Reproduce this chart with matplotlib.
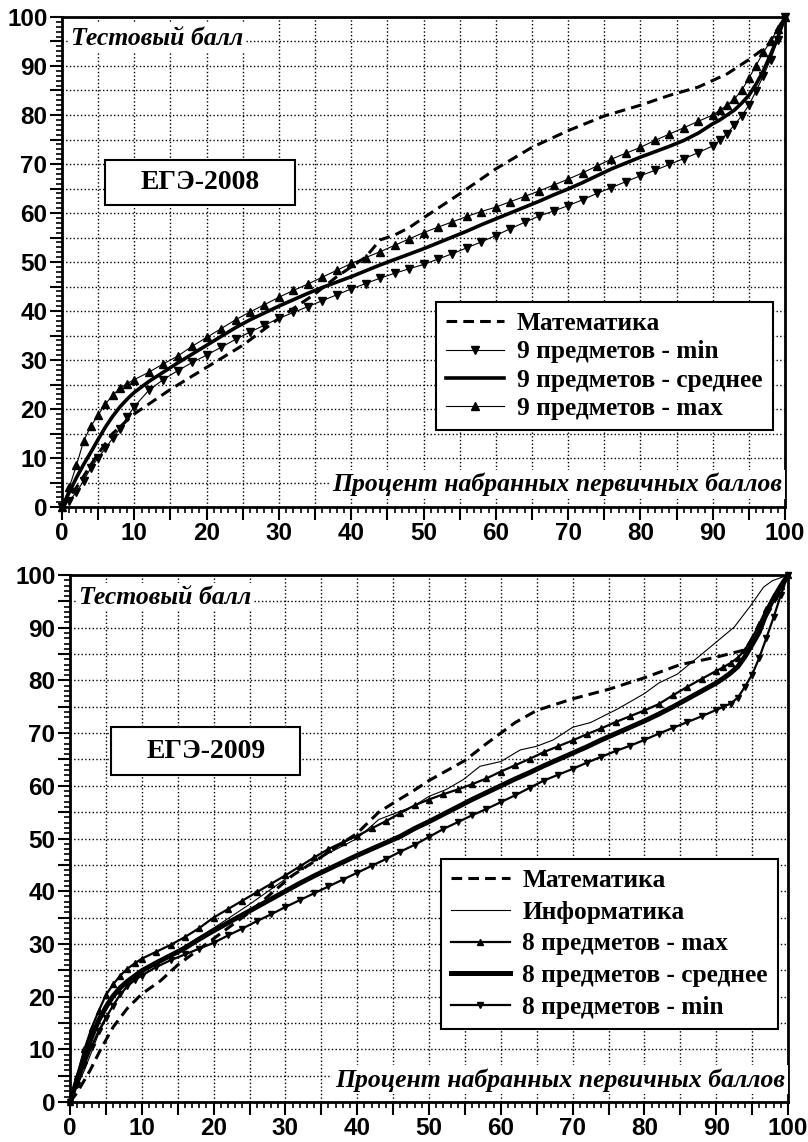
import matplotlib
matplotlib.use('Agg')
import matplotlib.pyplot as plt
from matplotlib.ticker import MultipleLocator, FuncFormatter
from matplotlib.patches import Rectangle

plt.rcParams['font.family'] = ['Liberation Sans', 'DejaVu Sans']
plt.rcParams['font.weight'] = 'bold'
SERIF = ['Liberation Serif', 'DejaVu Serif']

# ---------------- data: ЕГЭ-2008 ----------------
top_x = [0, 1, 2, 3, 4, 5, 6, 7, 8, 9, 10,
         12, 14, 16, 18, 20, 22, 24, 26, 28, 30,
         32, 34, 36, 38, 40, 42, 44, 46, 48, 50,
         52, 54, 56, 58, 60, 62, 64, 66, 68, 70,
         72, 74, 76, 78, 80, 82, 84, 86, 88, 90,
         91, 92, 93, 94, 95, 96, 97, 98, 99, 100]
top_max = [0, 4, 8.5, 13.5, 16.5, 18.8, 21, 22.8, 24.2, 25.2, 26,
           27.5, 29.2, 30.8, 32.8, 34.6, 36.4, 38.2, 39.8, 41.3, 42.8,
           44.2, 45.5, 46.9, 48.3, 49.7, 50.9, 52.1, 53.4, 54.7, 56,
           57.1, 58.2, 59.3, 60.3, 61.2, 62.3, 63.4, 64.5, 65.7, 66.9,
           68.2, 69.6, 71, 72.2, 73.4, 74.8, 76.1, 77.4, 78.7, 80,
           81, 82, 83.3, 85, 87.5, 90.1, 92.8, 95, 97.6, 100]
top_mean = [0, 3, 6, 8.7, 11.2, 13.8, 16.3, 18.5, 20.4, 22, 23.4,
            25.6, 27.5, 29.4, 31.2, 33, 34.8, 36.6, 38.2, 39.6, 41,
            42.3, 43.6, 44.8, 45.9, 47, 48.2, 49.4, 50.5, 51.6, 52.7,
            53.9, 55.1, 56.3, 57.6, 58.8, 60, 61.2, 62.4, 63.7, 64.9,
            66.2, 67.6, 69, 70.2, 71.4, 72.5, 73.6, 74.8, 76.3, 78.2,
            79, 80, 81, 82.4, 84, 86.3, 89, 92.3, 95.8, 100]
top_min = [0, 1.3, 3, 5.4, 8, 10, 12, 14, 16, 18.3, 20.5,
           23.8, 26, 27.8, 29.5, 31, 32.6, 34.2, 35.7, 37.1, 38.5,
           39.7, 40.9, 42.1, 43.3, 44.5, 45.6, 46.7, 47.7, 48.6, 49.5,
           50.6, 51.7, 52.9, 54.1, 55.4, 56.8, 58.1, 59.4, 60.4, 61.5,
           62.7, 64, 65.2, 66.4, 67.6, 68.7, 69.9, 71.1, 72.3, 73.7,
           74.8, 76.2, 78, 79.8, 82, 84.9, 88, 91.3, 95.3, 100]
top_math_x = [0, 2, 4.6, 7, 10, 13, 15, 20, 25, 30, 35, 38, 40, 42, 44, 46, 48, 50,
              55, 60, 65, 70, 75, 80, 84, 88, 92, 95, 97.5, 100]
top_math_y = [0, 4, 10, 15, 19, 22, 24, 28.5, 33, 38.5, 43.5, 47, 49, 51, 54.5, 55.5, 57, 59,
              63.9, 69, 73.4, 76.8, 79.8, 82, 84, 85.7, 88.4, 91.3, 94, 100]

# ---------------- data: ЕГЭ-2009 ----------------
bot_x = list(top_x)
bot_max = [0, 5, 10, 14, 17.3, 20.3, 22.3, 24, 25.3, 26.3, 27.2,
           28.5, 29.8, 31.3, 33, 35, 36.6, 38.2, 39.8, 41.4, 43,
           44.7, 46.4, 48, 49.3, 50.5, 51.9, 53.3, 54.8, 56.3, 57.4,
           58.4, 59.3, 60.3, 61.4, 62.7, 63.9, 65.1, 66.4, 67.5, 68.6,
           69.8, 70.9, 72.1, 73.2, 74.3, 75.5, 77.2, 78.8, 80.3, 81.8,
           82.5, 83.3, 84.3, 85.8, 88, 90.7, 93.6, 96, 97.9, 100]
bot_mean = [0, 4.3, 8.6, 12.3, 15.5, 18, 20.1, 21.7, 22.9, 23.9, 24.9,
            26.4, 27.8, 29.2, 30.9, 32.5, 34, 35.5, 37, 38.5, 40,
            41.5, 42.9, 44.2, 45.5, 46.8, 48, 49.2, 50.4, 51.9, 53.2,
            54.6, 56, 57.4, 58.7, 60, 61.3, 62.5, 63.8, 65, 66.2,
            67.4, 68.7, 69.9, 71.1, 72.3, 73.6, 75, 76.5, 78, 79.5,
            80.4, 81.4, 82.6, 84.5, 86.8, 89.2, 92.8, 95.6, 97.9, 100]
bot_min = [0, 3.3, 7, 10.5, 13.5, 16, 18.3, 20.4, 22, 23.1, 24,
           25.6, 26.9, 28, 29.1, 30.2, 31.6, 32.9, 34.3, 35.6, 37,
           38.3, 39.6, 40.9, 42.2, 43.5, 44.8, 46.1, 47.5, 48.8, 50.3,
           51.8, 53.1, 54.4, 55.6, 56.9, 58.2, 59.6, 61, 62.1, 63.2,
           64.4, 65.5, 66.6, 67.6, 68.7, 69.9, 71, 72.1, 73.2, 74.4,
           75, 75.6, 76.7, 78.8, 81.1, 84.3, 88.1, 92, 96.2, 100]
bot_info_x = [0, 2, 4, 6, 8, 10, 12, 15, 20, 25, 30, 35, 40, 43, 47.8, 50, 52.4, 54.8,
              57.1, 60, 62.7, 65, 67.3, 70, 72.5, 76.3, 80, 82, 84.6, 88.8, 92.5, 94.8,
              96.6, 97.8, 100]
bot_info_y = [0, 6, 13, 18.5, 22, 24.5, 26.3, 28.8, 33, 37.5, 42.3, 46.5, 50, 53.6, 56.1, 58,
              59.3, 61.2, 63.7, 64.6, 66.8, 67.5, 68.7, 71.1, 72, 74.6, 77.5, 79.5, 81.2, 85.9,
              90.1, 94.2, 97.7, 98.9, 100]
bot_math_x = [0, 1, 2.8, 4.2, 6, 8, 10, 12.6, 15, 18, 20, 25, 28.4, 31, 35, 40, 43, 45, 48,
              50, 55, 58, 62, 65, 70, 75, 80, 85, 90, 94, 96.6, 98.5, 100]
bot_math_y = [0, 1.8, 6, 9.8, 14.2, 17.8, 20.5, 23, 26, 29, 31, 36, 40, 43, 46.5, 51, 55, 56.7,
              59.2, 61, 64.8, 68, 72, 74.3, 76.5, 78.3, 80.5, 83, 84.4, 85.8, 91.3, 95.8, 100]

fig = plt.figure(figsize=(8.08, 11.42), dpi=100)
ax1 = fig.add_axes([62 / 808, 1 - 507 / 1142, 723 / 808, 490 / 1142])
ax2 = fig.add_axes([70 / 808, 1 - 1102 / 1142, 718 / 808, 527 / 1142])


def style_axes(ax):
    ax.set_xlim(0, 100)
    ax.set_ylim(0, 100)
    for s in ax.spines.values():
        s.set_linewidth(2)
        s.set_color('black')
    fmt = FuncFormatter(lambda v, p: '%d' % round(v) if round(v) % 10 == 0 else '')
    for axis in (ax.xaxis, ax.yaxis):
        axis.set_major_locator(MultipleLocator(5))
        axis.set_minor_locator(MultipleLocator(1))
        axis.set_major_formatter(fmt)
    ax.tick_params(which='major', direction='out', length=9, width=1.5, pad=1.5,
                   labelsize=17.5, top=False, right=False)
    ax.tick_params(which='minor', direction='out', length=4.5, width=1.2,
                   top=False, right=False)
    ax.grid(which='major', linestyle=':', color='black', linewidth=1)
    ax.set_axisbelow(True)


def labels(ax, tx, ty, bx, by):
    ax.text(tx, ty, 'Тестовый балл', family=SERIF, style='italic', weight='bold',
            size=18.5, ha='left', va='center', zorder=5,
            bbox=dict(facecolor='white', edgecolor='none', pad=2))
    ax.text(bx, by, 'Процент набранных первичных баллов', family=SERIF, style='italic',
            weight='bold', size=18.5, ha='right', va='center', zorder=5,
            bbox=dict(facecolor='white', edgecolor='none', pad=2))


def year_box(ax, x0, y0, w, h, txt):
    ax.add_patch(Rectangle((x0, y0), w, h, facecolor='white', edgecolor='black',
                           linewidth=1.5, zorder=4))
    ax.text(x0 + w / 2, y0 + h / 2, txt, family=SERIF, weight='bold', size=20,
            ha='center', va='center', zorder=5)


def make_legend(ax, anchor, spacing):
    leg = ax.legend(loc='upper right', bbox_to_anchor=anchor, borderaxespad=0,
                    numpoints=1, frameon=True, fancybox=False, framealpha=1,
                    edgecolor='black', borderpad=0.4, labelspacing=spacing,
                    handlelength=2.3, handletextpad=0.5,
                    prop=dict(family=SERIF, weight='bold', size=18.3))
    leg.get_frame().set_linewidth(1.5)
    leg.set_zorder(6)
    return leg


# ---------- top chart ----------
style_axes(ax1)
ax1.plot(top_math_x, top_math_y, color='black', lw=2.2, dashes=(3.5, 2),
         label='Математика', clip_on=False, zorder=3)
ax1.plot(top_x, top_min, color='black', lw=0.8, marker='v', ms=5.5,
         label='9 предметов - min', clip_on=False, zorder=3)
ax1.plot(top_x, top_mean, color='black', lw=2.6,
         label='9 предметов - среднее', clip_on=False, zorder=3)
ax1.plot(top_x, top_max, color='black', lw=0.8, marker='^', ms=5.5,
         label='9 предметов - max', clip_on=False, zorder=3)
labels(ax1, 1.3, 95.6, 99.6, 4.6)
year_box(ax1, 5.95, 61.6, 26.25, 9.2, 'ЕГЭ-2008')
make_legend(ax1, (0.983, 0.418), 0.2)

# ---------- bottom chart ----------
style_axes(ax2)
ax2.plot(bot_math_x, bot_math_y, color='black', lw=2.2, dashes=(3.5, 2),
         label='Математика', clip_on=False, zorder=3)
ax2.plot(bot_info_x, bot_info_y, color='black', lw=0.8,
         label='Информатика', clip_on=False, zorder=3)
ax2.plot(bot_x, bot_max, color='black', lw=1.6, marker='^', ms=5,
         label='8 предметов - max', clip_on=False, zorder=3)
ax2.plot(bot_x, bot_mean, color='black', lw=3.6,
         label='8 предметов - среднее', clip_on=False, zorder=3)
ax2.plot(bot_x, bot_min, color='black', lw=1.6, marker='v', ms=5,
         label='8 предметов - min', clip_on=False, zorder=3)
labels(ax2, 1.2, 95.8, 99.6, 4.2)
year_box(ax2, 5.7, 62.0, 26.4, 9.1, 'ЕГЭ-2009')
make_legend(ax2, (0.986, 0.462), 0.35)

fig.savefig('out.png', dpi=100, facecolor='white')
